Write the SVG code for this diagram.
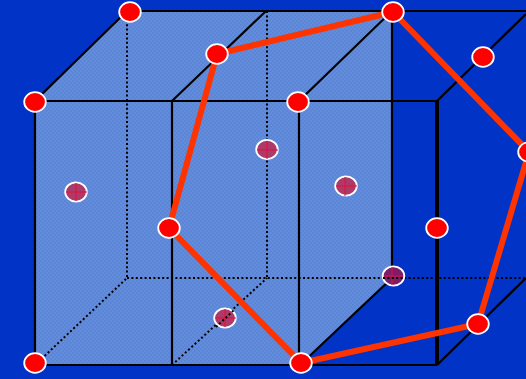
<svg xmlns="http://www.w3.org/2000/svg" width="526" height="379" viewBox="0 0 526 379">
<style>
.solid{stroke:#000;stroke-width:2.2;fill:none}
.thick{stroke:#000;stroke-width:4;fill:none}
.dot{stroke:#000;stroke-width:2;fill:none;stroke-dasharray:2 2.4}
.bond{stroke:#ff3300;stroke-width:6;fill:none;stroke-linejoin:round}
.atom{fill:#ff0000;stroke:#fff;stroke-width:1.8}
.inner{fill:#ad3a68;stroke:#fff;stroke-width:1.8}
.cross{stroke:#e0103c;stroke-width:1;fill:none}
</style>
<defs>
<pattern id="dither" width="4" height="4" patternUnits="userSpaceOnUse">
<rect width="4" height="4" fill="#638cdb"/>
<rect width="2" height="2" fill="#5b85d6"/>
<rect x="2" y="2" width="2" height="2" fill="#5b85d6"/>
</pattern>
</defs>
<rect width="526" height="379" fill="#0033c6"/>
<path d="M35 101L127 11H392V278L300 365H35Z" fill="url(#dither)"/>
<g id="connectors">
<path class="dot" d="M127 11V278M267 11V278M127 278H526M35 365L127 278M172 365L267 278"/>
<path class="solid" d="M35 101H437M127 11H526M35 365H437M35 101V365M172 101V365M299 101V365M392 11V278M35 101L127 11M172 101L266 11M299 101L392 11M437 101L526 14M300 365L392 278M437 365L526 278"/>
<path class="thick" d="M437 101V365"/>
<path class="bond" d="M217 54L393 12L529 152L478 324L301 363L169 228Z"/>
</g>
<g id="n1"><ellipse class="atom" cx="130" cy="12" rx="10.8" ry="9.8"/></g>
<g id="n2"><ellipse class="atom" cx="393" cy="12" rx="10.8" ry="9.8"/></g>
<g id="n3"><ellipse class="atom" cx="217" cy="54" rx="10.8" ry="9.8"/></g>
<g id="n4"><ellipse class="atom" cx="35" cy="102" rx="10.8" ry="9.8"/></g>
<g id="n5"><ellipse class="atom" cx="298" cy="102" rx="10.8" ry="9.8"/></g>
<g id="n6"><ellipse class="atom" cx="483" cy="57" rx="10.8" ry="9.8"/></g>
<g id="n7"><ellipse class="atom" cx="529" cy="152" rx="10.8" ry="9.8"/></g>
<g id="n8"><ellipse class="atom" cx="169" cy="228" rx="10.8" ry="9.8"/></g>
<g id="n9"><ellipse class="atom" cx="437" cy="228" rx="10.8" ry="9.8"/></g>
<g id="n10"><ellipse class="atom" cx="35" cy="363" rx="10.8" ry="9.8"/></g>
<g id="n11"><ellipse class="atom" cx="301" cy="363" rx="10.8" ry="9.8"/></g>
<g id="n12"><ellipse class="atom" cx="478" cy="324" rx="10.8" ry="9.8"/></g>
<g id="i1"><ellipse class="inner" cx="76" cy="192" rx="10.8" ry="9.6"/><path class="cross" d="M66 192H87M76 183V201"/></g>
<g id="i2"><ellipse class="inner" cx="267" cy="149.500" rx="10.800" ry="9.600"/><path class="cross" d="M257 150H278M267 141V159"/></g>
<g id="i3"><ellipse class="inner" cx="346" cy="186" rx="10.800" ry="9.600"/><path class="cross" d="M336 186H357M345 177V196"/></g>
<g id="i4"><ellipse class="inner" cx="225" cy="318" rx="10.800" ry="9.600"/><path class="cross" d="M215 318H236M225 309V327"/><path class="dot" d="M216 327L234 310"/></g>
<g id="i5"><ellipse cx="393.500" cy="276" rx="10.800" ry="9.600" fill="#7f1c68" stroke="#fff" stroke-width="1.800"/><path class="cross" d="M384 276H403M392 267V285"/><path class="dot" d="M383 278H404"/></g>
</svg>
